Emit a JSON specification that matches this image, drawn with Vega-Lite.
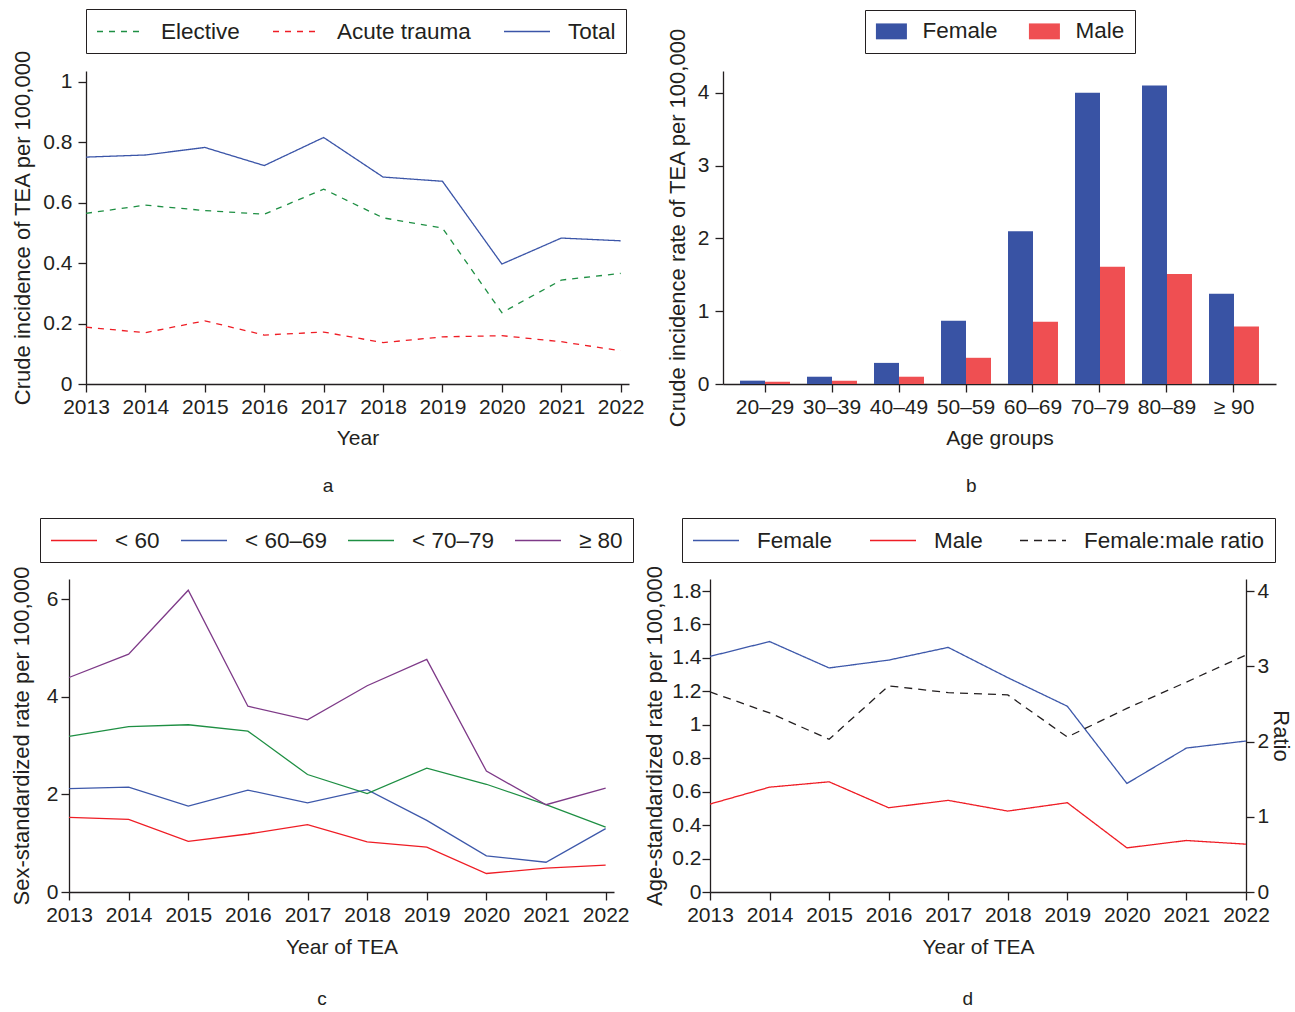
{
  "$schema": "https://vega.github.io/schema/vega-lite/v6.json",
  "background": "white",
  "padding": {"left": 10, "top": 8, "right": 0, "bottom": 0},
  "datasets": {
    "a": [
      {"year": 2013, "series": "Elective", "value": 0.565},
      {"year": 2014, "series": "Elective", "value": 0.592},
      {"year": 2015, "series": "Elective", "value": 0.574},
      {"year": 2016, "series": "Elective", "value": 0.562},
      {"year": 2017, "series": "Elective", "value": 0.645},
      {"year": 2018, "series": "Elective", "value": 0.550},
      {"year": 2019, "series": "Elective", "value": 0.516},
      {"year": 2020, "series": "Elective", "value": 0.236},
      {"year": 2021, "series": "Elective", "value": 0.344},
      {"year": 2022, "series": "Elective", "value": 0.366},
      {"year": 2013, "series": "Acute trauma", "value": 0.188},
      {"year": 2014, "series": "Acute trauma", "value": 0.170},
      {"year": 2015, "series": "Acute trauma", "value": 0.209},
      {"year": 2016, "series": "Acute trauma", "value": 0.162},
      {"year": 2017, "series": "Acute trauma", "value": 0.172},
      {"year": 2018, "series": "Acute trauma", "value": 0.137},
      {"year": 2019, "series": "Acute trauma", "value": 0.156},
      {"year": 2020, "series": "Acute trauma", "value": 0.160},
      {"year": 2021, "series": "Acute trauma", "value": 0.140},
      {"year": 2022, "series": "Acute trauma", "value": 0.110},
      {"year": 2013, "series": "Total", "value": 0.751},
      {"year": 2014, "series": "Total", "value": 0.758},
      {"year": 2015, "series": "Total", "value": 0.783},
      {"year": 2016, "series": "Total", "value": 0.723},
      {"year": 2017, "series": "Total", "value": 0.816},
      {"year": 2018, "series": "Total", "value": 0.685},
      {"year": 2019, "series": "Total", "value": 0.671},
      {"year": 2020, "series": "Total", "value": 0.397},
      {"year": 2021, "series": "Total", "value": 0.483},
      {"year": 2022, "series": "Total", "value": 0.474}
    ],
    "b": [
      {"age": "20–29", "sex": "Female", "value": 0.046},
      {"age": "30–39", "sex": "Female", "value": 0.10},
      {"age": "40–49", "sex": "Female", "value": 0.29},
      {"age": "50–59", "sex": "Female", "value": 0.87},
      {"age": "60–69", "sex": "Female", "value": 2.10},
      {"age": "70–79", "sex": "Female", "value": 4.00},
      {"age": "80–89", "sex": "Female", "value": 4.10},
      {"age": "≥ 90", "sex": "Female", "value": 1.24},
      {"age": "20–29", "sex": "Male", "value": 0.03},
      {"age": "30–39", "sex": "Male", "value": 0.046},
      {"age": "40–49", "sex": "Male", "value": 0.10},
      {"age": "50–59", "sex": "Male", "value": 0.36},
      {"age": "60–69", "sex": "Male", "value": 0.855},
      {"age": "70–79", "sex": "Male", "value": 1.61},
      {"age": "80–89", "sex": "Male", "value": 1.51},
      {"age": "≥ 90", "sex": "Male", "value": 0.79}
    ],
    "c": [
      {"year": 2013, "group": "< 60", "value": 1.53},
      {"year": 2014, "group": "< 60", "value": 1.49},
      {"year": 2015, "group": "< 60", "value": 1.04},
      {"year": 2016, "group": "< 60", "value": 1.19},
      {"year": 2017, "group": "< 60", "value": 1.38},
      {"year": 2018, "group": "< 60", "value": 1.03},
      {"year": 2019, "group": "< 60", "value": 0.92},
      {"year": 2020, "group": "< 60", "value": 0.38},
      {"year": 2021, "group": "< 60", "value": 0.49},
      {"year": 2022, "group": "< 60", "value": 0.55},
      {"year": 2013, "group": "< 60–69", "value": 2.12},
      {"year": 2014, "group": "< 60–69", "value": 2.15},
      {"year": 2015, "group": "< 60–69", "value": 1.76},
      {"year": 2016, "group": "< 60–69", "value": 2.09},
      {"year": 2017, "group": "< 60–69", "value": 1.83},
      {"year": 2018, "group": "< 60–69", "value": 2.10},
      {"year": 2019, "group": "< 60–69", "value": 1.47},
      {"year": 2020, "group": "< 60–69", "value": 0.74},
      {"year": 2021, "group": "< 60–69", "value": 0.61},
      {"year": 2022, "group": "< 60–69", "value": 1.30},
      {"year": 2013, "group": "< 70–79", "value": 3.19},
      {"year": 2014, "group": "< 70–79", "value": 3.39},
      {"year": 2015, "group": "< 70–79", "value": 3.43},
      {"year": 2016, "group": "< 70–79", "value": 3.30},
      {"year": 2017, "group": "< 70–79", "value": 2.41},
      {"year": 2018, "group": "< 70–79", "value": 2.02},
      {"year": 2019, "group": "< 70–79", "value": 2.54},
      {"year": 2020, "group": "< 70–79", "value": 2.21},
      {"year": 2021, "group": "< 70–79", "value": 1.79},
      {"year": 2022, "group": "< 70–79", "value": 1.33},
      {"year": 2013, "group": "≥ 80", "value": 4.40},
      {"year": 2014, "group": "≥ 80", "value": 4.88},
      {"year": 2015, "group": "≥ 80", "value": 6.19},
      {"year": 2016, "group": "≥ 80", "value": 3.81},
      {"year": 2017, "group": "≥ 80", "value": 3.53},
      {"year": 2018, "group": "≥ 80", "value": 4.23},
      {"year": 2019, "group": "≥ 80", "value": 4.77},
      {"year": 2020, "group": "≥ 80", "value": 2.48},
      {"year": 2021, "group": "≥ 80", "value": 1.79},
      {"year": 2022, "group": "≥ 80", "value": 2.13}
    ],
    "d_rate": [
      {"year": 2013, "series": "Female", "value": 1.409},
      {"year": 2014, "series": "Female", "value": 1.498},
      {"year": 2015, "series": "Female", "value": 1.340},
      {"year": 2016, "series": "Female", "value": 1.387},
      {"year": 2017, "series": "Female", "value": 1.463},
      {"year": 2018, "series": "Female", "value": 1.282},
      {"year": 2019, "series": "Female", "value": 1.111},
      {"year": 2020, "series": "Female", "value": 0.649},
      {"year": 2021, "series": "Female", "value": 0.861},
      {"year": 2022, "series": "Female", "value": 0.903},
      {"year": 2013, "series": "Male", "value": 0.526},
      {"year": 2014, "series": "Male", "value": 0.627},
      {"year": 2015, "series": "Male", "value": 0.659},
      {"year": 2016, "series": "Male", "value": 0.504},
      {"year": 2017, "series": "Male", "value": 0.548},
      {"year": 2018, "series": "Male", "value": 0.484},
      {"year": 2019, "series": "Male", "value": 0.534},
      {"year": 2020, "series": "Male", "value": 0.264},
      {"year": 2021, "series": "Male", "value": 0.308},
      {"year": 2022, "series": "Male", "value": 0.286}
    ],
    "d_ratio": [
      {"year": 2013, "series": "Female:male ratio", "ratio": 2.66},
      {"year": 2014, "series": "Female:male ratio", "ratio": 2.38},
      {"year": 2015, "series": "Female:male ratio", "ratio": 2.03},
      {"year": 2016, "series": "Female:male ratio", "ratio": 2.74},
      {"year": 2017, "series": "Female:male ratio", "ratio": 2.65},
      {"year": 2018, "series": "Female:male ratio", "ratio": 2.62},
      {"year": 2019, "series": "Female:male ratio", "ratio": 2.06},
      {"year": 2020, "series": "Female:male ratio", "ratio": 2.44},
      {"year": 2021, "series": "Female:male ratio", "ratio": 2.79},
      {"year": 2022, "series": "Female:male ratio", "ratio": 3.15}
    ]
  },
  "resolve": {"scale": {"color": "independent", "strokeDash": "independent"}, "legend": {"color": "independent", "strokeDash": "independent"}},
  "columns": 2,
  "align": "each",
  "bounds": "flush",
  "spacing": {"row": 195, "column": 81},
  "concat": [
    {
      "width": 560, "height": 313,
      "data": {"name": "a"},
      "title": {"text": "a", "orient": "bottom", "offset": 29},
      "mark": {"type": "line", "strokeWidth": 1.3},
      "encoding": {
        "x": {"field": "year", "type": "quantitative",
              "scale": {"domain": [2013, 2022.14], "nice": false, "zero": false, "range": [17, 560]},
              "axis": {"values": [2013,2014,2015,2016,2017,2018,2019,2020,2021,2022], "format": "d", "title": "Year"}},
        "y": {"field": "value", "type": "quantitative",
              "scale": {"domain": [0, 1.036], "nice": false},
              "axis": {"values": [0,0.2,0.4,0.6,0.8,1], "format": "~g", "title": "Crude incidence of TEA per 100,000", "offset": -17}},
        "color": {"field": "series", "type": "nominal",
                  "scale": {"domain": ["Elective","Acute trauma","Total"], "range": ["#1e8f43","#ef1d25","#3b55a8"]},
                  "legend": {"legendX": 17, "legendY": -62, "columnPadding": 30}},
        "strokeDash": {"field": "series", "type": "nominal",
                  "scale": {"domain": ["Elective","Acute trauma","Total"], "range": [[6,6],[6,6],[1,0]]},
                  "legend": {"legendX": 17, "legendY": -62, "columnPadding": 30}}
      }
    },
    {
      "width": 566, "height": 313,
      "data": {"name": "b"},
      "title": {"text": "b", "orient": "bottom", "offset": 29},
      "mark": {"type": "bar"},
      "encoding": {
        "x": {"field": "age", "type": "nominal", "sort": null,
              "scale": {"paddingInner": 0.254, "paddingOuter": 0.254, "range": [13, 566]},
              "axis": {"title": "Age groups", "labelAngle": 0}},
        "xOffset": {"field": "sex", "type": "nominal", "scale": {"domain": ["Female","Male"], "paddingInner": 0, "paddingOuter": 0}},
        "y": {"field": "value", "type": "quantitative",
              "scale": {"domain": [0, 4.3], "nice": false},
              "axis": {"values": [0,1,2,3,4], "title": "Crude incidence rate of TEA per 100,000", "offset": -13}},
        "color": {"field": "sex", "type": "nominal",
                  "scale": {"domain": ["Female","Male"], "range": ["#3953a4","#ef4f52"]},
                  "legend": {"legendX": 155, "legendY": -61, "symbolType": "M-1,-0.77H2V0.77H-1Z", "symbolSize": 427, "symbolStrokeWidth": 0, "columnPadding": 30, "labelOffset": 25}}
      }
    },
    {
      "width": 545, "height": 313,
      "data": {"name": "c"},
      "title": {"text": "c", "orient": "bottom", "offset": 33},
      "mark": {"type": "line", "strokeWidth": 1.3},
      "encoding": {
        "x": {"field": "year", "type": "quantitative",
              "scale": {"domain": [2013, 2022.14], "nice": false, "zero": false},
              "axis": {"values": [2013,2014,2015,2016,2017,2018,2019,2020,2021,2022], "format": "d", "title": "Year of TEA", "titlePadding": 11}},
        "y": {"field": "value", "type": "quantitative",
              "scale": {"domain": [0, 6.42], "nice": false},
              "axis": {"values": [0,2,4,6], "title": "Sex-standardized rate per 100,000", "labelPadding": 3, "titlePadding": 13}},
        "color": {"field": "group", "type": "nominal",
                  "scale": {"domain": ["< 60","< 60–69","< 70–79","≥ 80"], "range": ["#ef1d25","#3d58aa","#1e8f43","#7e3a88"]},
                  "legend": {"legendX": -29, "legendY": -61, "columnPadding": 18}}
      }
    },
    {
      "height": 313,
      "width": 536,
      "title": {"text": "d", "orient": "bottom", "offset": 33},
      "layer": [
        {
          "data": {"name": "d_rate"},
          "mark": {"type": "line", "strokeWidth": 1.3},
          "encoding": {
            "x": {"field": "year", "type": "quantitative",
                  "scale": {"domain": [2013, 2022], "nice": false, "zero": false},
                  "axis": {"values": [2013,2014,2015,2016,2017,2018,2019,2020,2021,2022], "format": "d", "title": "Year of TEA", "titlePadding": 11}},
            "y": {"field": "value", "type": "quantitative",
                  "scale": {"domain": [0, 1.872], "nice": false},
                  "axis": {"values": [0,0.2,0.4,0.6,0.8,1,1.2,1.4,1.6,1.8], "format": "~g", "title": "Age-standardized rate per 100,000", "labelPadding": 1, "titlePadding": 5}},
            "color": {"field": "series", "type": "nominal",
                      "scale": {"domain": ["Female","Male","Female:male ratio"], "range": ["#3d58aa","#ef1d25","#231f20"]},
                      "legend": {"legendX": -28, "legendY": -61, "columnPadding": 34}},
            "strokeDash": {"field": "series", "type": "nominal",
                      "scale": {"domain": ["Female","Male","Female:male ratio"], "range": [[1,0],[1,0],[8,6]]},
                      "legend": {"legendX": -28, "legendY": -61, "columnPadding": 34}}
          }
        },
        {
          "data": {"name": "d_ratio"},
          "mark": {"type": "line", "strokeWidth": 1.3},
          "encoding": {
            "x": {"field": "year", "type": "quantitative"},
            "y": {"field": "ratio", "type": "quantitative",
                  "scale": {"domain": [0, 4.16], "nice": false},
                  "axis": {"orient": "right", "values": [0,1,2,3,4], "title": "Ratio", "labelPadding": 3, "titlePadding": 0}},
            "color": {"field": "series", "type": "nominal"},
            "strokeDash": {"field": "series", "type": "nominal"}
          }
        }
      ],
      "resolve": {"scale": {"y": "independent"}, "axis": {"y": "independent"}}
    }
  ],
  "config": {
    "view": {"stroke": null},
    "font": "Liberation Sans",
    "title": {"fontSize": 19, "fontWeight": "normal", "color": "#231f20", "anchor": "middle", "frame": "bounds", "font": "Liberation Sans"},
    "axis": {
      "grid": false,
      "domainColor": "#231f20", "domainWidth": 1.3,
      "tickColor": "#231f20", "tickWidth": 1.3, "tickSize": 8,
      "labelFont": "Liberation Sans", "labelFontSize": 21, "labelColor": "#231f20", "labelPadding": 4,
      "labelFlush": false, "labelOverlap": false,
      "titleFont": "Liberation Sans", "titleFontSize": 21, "titleFontWeight": "normal", "titleColor": "#231f20", "titlePadding": 10
    },
    "axisY": {"titleFontSize": 22, "labelPadding": 6, "titlePadding": 8},
    "legend": {
      "orient": "none", "direction": "horizontal", "title": null,
      "strokeColor": "#231f20", "padding": 10,
      "symbolType": "M-1,0H3", "symbolSize": 529, "symbolStrokeWidth": 1.3,
      "labelFont": "Liberation Sans", "labelFontSize": 22.5, "labelColor": "#231f20", "labelOffset": 40, "labelLimit": 400
    }
  }
}
